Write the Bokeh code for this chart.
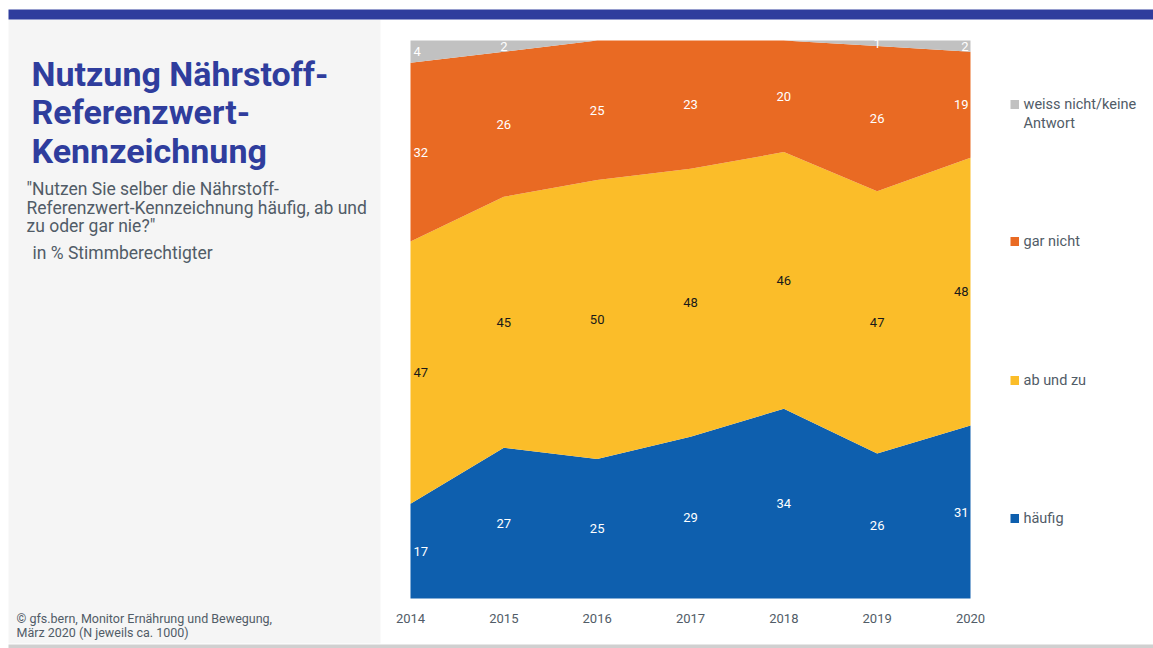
import numpy as np
from bokeh.plotting import figure
from bokeh.models import ColumnDataSource, Range1d, BoxAnnotation, Label
from bokeh.core.properties import value
from bokeh.embed import file_html
from bokeh.resources import INLINE

# ---------------- data ----------------
years = [2014, 2015, 2016, 2017, 2018, 2019, 2020]
year_labels = ["2014", "2015", "2016", "2017", "2018", "2019", "2020"]
haeufig = [17, 27, 25, 29, 34, 26, 31]
ab_und_zu = [47, 45, 50, 48, 46, 47, 48]
gar_nicht = [32, 26, 25, 23, 20, 26, 19]
weiss_nicht = [4, 2, 0, 0, 0, 1, 2]

series_names = ["häufig", "ab und zu", "gar nicht", "weiss nicht/keine Antwort"]
series_keys = ["haeufig", "ab_und_zu", "gar_nicht", "weiss_nicht"]
series_colors = ["#0e5fae", "#fbbd29", "#e96a23", "#c1c1c1"]
label_colors = ["#ffffff", "#1a1a1a", "#ffffff", "#ffffff"]

title_lines = ["Nutzung Nährstoff-", "Referenzwert-", "Kennzeichnung"]
subtitle_lines = ['"Nutzen Sie selber die Nährstoff-',
                  'Referenzwert-Kennzeichnung häufig, ab und',
                  'zu oder gar nie?"']
unit_text = "in % Stimmberechtigter"
source_lines = ["©  gfs.bern, Monitor Ernährung und Bewegung,",
                "März 2020  (N jeweils ca. 1000)"]

FONT = "Roboto"
TXT = "#515c67"
NAVY = "#2f3d9d"

# ---------------- layout: frame covers the whole canvas ----------------
W, H = 1153, 648
PL, PR, PT, PB = 410, 970, 40, 598      # plot area in canvas pixels
x_per_px = (years[-1] - years[0]) / (PR - PL)
y_per_px = 100 / (PB - PT)
x_range = Range1d(years[0] - PL * x_per_px, years[-1] + (W - PR) * x_per_px)
y_range = Range1d(0 - (H - PB) * y_per_px, 100 + PT * y_per_px)

p = figure(width=W, height=H, output_backend="svg", toolbar_location=None,
           x_range=x_range, y_range=y_range,
           x_axis_location=None, y_axis_location=None,
           min_border=0)
p.outline_line_color = None
p.grid.visible = False
p.background_fill_color = "white"
p.border_fill_color = "white"

def sx(px): return px
def sy(py): return H - py

def box(l, r, t, b, color, level="annotation"):
    p.add_layout(BoxAnnotation(left=sx(l), right=sx(r), top=sy(t), bottom=sy(b),
                               left_units="screen", right_units="screen",
                               top_units="screen", bottom_units="screen",
                               fill_color=color, fill_alpha=1, line_color=None,
                               level=level))

# grey left panel, blue top bar, bottom rule
box(8, 380, 19, 643, "#f5f5f5", level="underlay")
box(8, W, 9, 19, NAVY)
box(8, W, 644, 648, "#d0d0d0")

# stacked areas
src = ColumnDataSource(dict(year=years, haeufig=haeufig, ab_und_zu=ab_und_zu,
                            gar_nicht=gar_nicht, weiss_nicht=weiss_nicht))
p.varea_stack(stackers=series_keys, x="year", color=series_colors, source=src)

# value labels in the middle of each band
vals = np.array([haeufig, ab_und_zu, gar_nicht, weiss_nicht], dtype=float)
tops = np.cumsum(vals, axis=0)
mids = tops - vals / 2
lx, ly, lt, lc, la, lo = [], [], [], [], [], []
n = len(years)
for s in range(4):
    for i in range(n):
        if vals[s, i] <= 0:
            continue
        lx.append(years[i]); ly.append(mids[s, i]); lt.append(str(int(vals[s, i])))
        lc.append(label_colors[s])
        if i == 0:
            la.append("left"); lo.append(3)
        elif i == n - 1:
            la.append("right"); lo.append(-2)
        else:
            la.append("center"); lo.append(0)
lsrc = ColumnDataSource(dict(x=lx, y=ly, text=lt, color=lc, align=la, xoff=lo))
p.text(x="x", y="y", text="text", text_color="color", text_align="align",
       x_offset="xoff", text_baseline="middle", text_font=value(FONT),
       text_font_size="13px", source=lsrc)

# year axis labels
tsrc = ColumnDataSource(dict(x=years, y=[0] * n, text=year_labels))
p.text(x="x", y="y", text="text", text_color=TXT, text_align="center",
       y_offset=20, text_baseline="middle", text_font=value(FONT),
       text_font_size="13px", source=tsrc)

def add_label(text, px, py, size, color, style="normal", align="left"):
    p.add_layout(Label(x=sx(px), y=sy(py), x_units="screen", y_units="screen",
                       text=text, text_font=FONT, text_font_size=size,
                       text_color=color, text_font_style=style,
                       text_align=align, text_baseline="middle"))

for k, t in enumerate(title_lines):
    add_label(t, 31, 73 + 38.5 * k, "34px", NAVY, style="bold")
for k, t in enumerate(subtitle_lines):
    add_label(t, 26, 188.5 + 18.7 * k, "17.5px", TXT)
add_label(unit_text, 32, 252, "17.5px", TXT)
for k, t in enumerate(source_lines):
    add_label(t, 16, 618 + 14 * k, "12.5px", TXT)

# legend (manual, top to bottom)
leg_y = [104, 241, 380, 518]
legend_order = [3, 2, 1, 0]
for idx, s in enumerate(legend_order):
    yc = leg_y[idx]
    box(1010, 1018.5, yc - 4.5, yc + 4.5, series_colors[s])
    if s == 3:
        add_label("weiss nicht/keine", 1023, yc, "14.5px", TXT)
        add_label("Antwort", 1023, yc + 18.5, "14.5px", TXT)
    else:
        add_label(series_names[s], 1023, yc, "14.5px", TXT)

open("out.html", "w").write(file_html(p, INLINE))
